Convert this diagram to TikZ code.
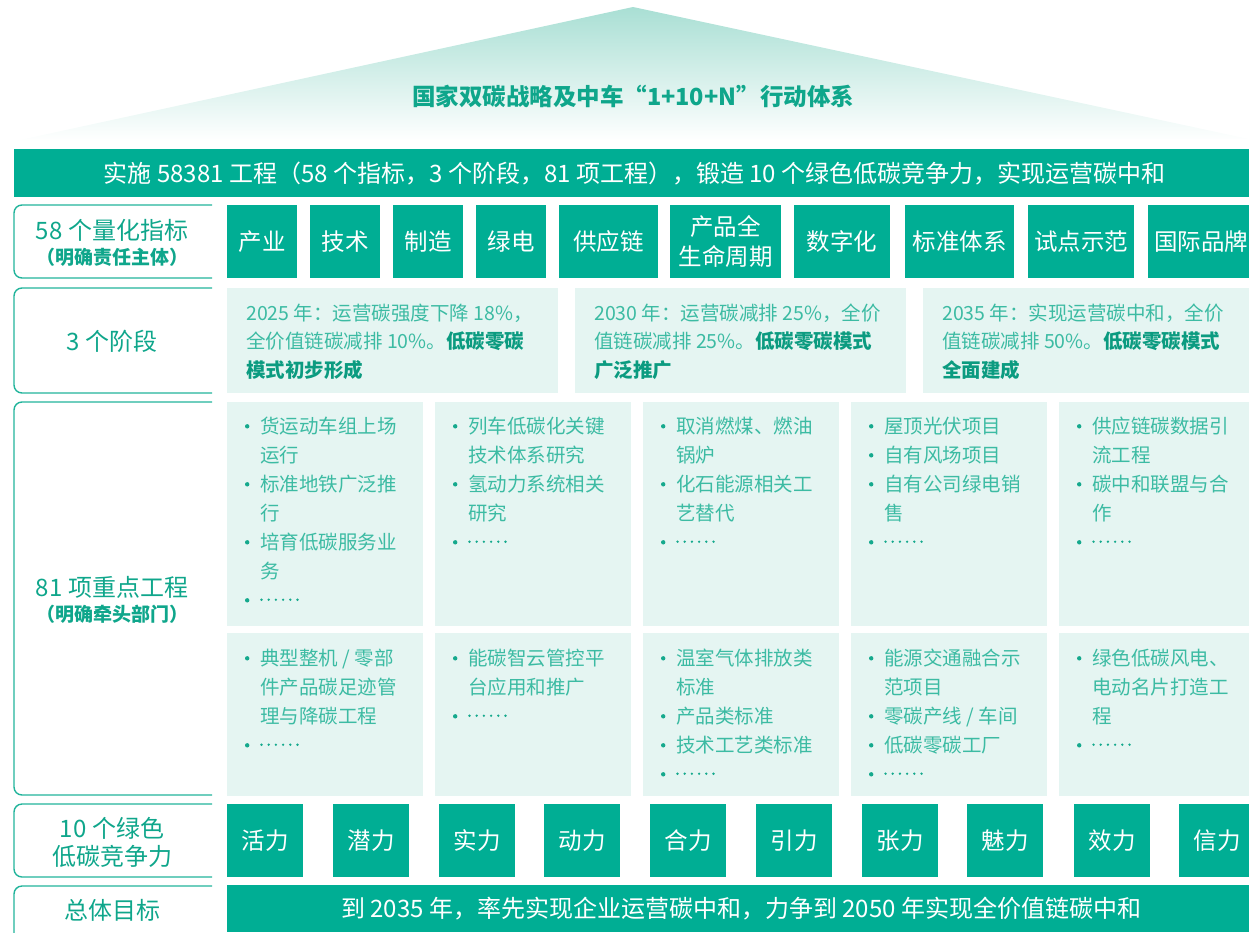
\documentclass[tikz,border=0pt]{standalone}
\usepackage{fontspec}
\setmainfont{Noto Sans CJK SC}
\definecolor{mainc}{HTML}{00AE94}
\definecolor{labc}{HTML}{0FA68B}
\definecolor{linec}{HTML}{22B49B}
\definecolor{lightc}{HTML}{3CBBA3}
\definecolor{dotc}{HTML}{15A98D}
\definecolor{boldc}{HTML}{0B9B80}
\definecolor{cellc}{HTML}{E5F5F2}
\definecolor{rooftop}{HTML}{A9DFD4}
\newcommand\fsz[2]{\fontsize{#1}{#2}\selectfont}
\newcommand\itm{\makebox[16pt][l]{\tikz[baseline=0pt]\fill[dotc] (0pt,0pt) (3pt,7.2pt) circle (2.2pt);}}
\newcommand\dts{\tikz[baseline=0pt]{\foreach \i in {0,...,5}{\fill[dotc] (\i*7.2pt+1.5pt,7.8pt) circle (1.3pt);}}}
\tikzset{
  tbox/.style={fill=mainc, text=white, inner sep=0pt, font=\fsz{23.5}{30}, align=center},
  wide/.style={fill=mainc, text=white, inner sep=0pt, font=\fsz{24}{30}},
  stagebox/.style={fill=cellc, inner sep=0pt},
  cellbox/.style={fill=cellc, inner sep=0pt},
  stagetext/.style={anchor=north west, inner sep=0pt, text=lightc, font=\fsz{19.5}{28.5}},
  celltext/.style={anchor=north west, inner sep=0pt, text=lightc, font=\fsz{19.5}{29}},
  labline/.style={draw=linec, line width=1.4pt, rounded corners=8pt},
  labtext/.style={text=labc, inner sep=0pt, font=\fsz{24}{28}, align=center},
  labsub/.style={text=labc, inner sep=0pt, font=\fsz{19}{22}\bfseries},
}
\begin{document}
\begin{tikzpicture}[x=1pt,y=-1pt]
\useasboundingbox (0,0) rectangle (1249,932);
\clip (0,0) rectangle (1249,932);
% roof
\shade[top color=rooftop, bottom color=white] (15,141) -- (633,7) -- (1249,139) -- cycle;
\node[text=labc, font=\fsz{23.5}{28}\bfseries, inner sep=0pt] (title) at (633,96) {国家双碳战略及中车“1+10+N”行动体系};
% banner
\node[wide, minimum width=1241pt, minimum height=48pt, anchor=north west] (banner) at (14,149) {实施 58381 工程（58 个指标，3 个阶段，81 项工程），锻造 10 个绿色低碳竞争力，实现运营碳中和};
% left label outlines
\draw[labline] (212,205) -- (14,205) -- (14,278) -- (212,278);
\draw[labline] (212,288) -- (14,288) -- (14,393) -- (212,393);
\draw[labline] (212,402) -- (14,402) -- (14,795) -- (212,795);
\draw[labline] (212,804) -- (14,804) -- (14,877) -- (212,877);
\draw[labline] (212,886) -- (14,886) -- (14,960) -- (212,960);
% left labels
\node[labtext] (l1) at (112,230) {58 个量化指标};
\node[labsub] (l1b) at (112,257) {（明确责任主体）};
\node[labtext] (l2) at (112,341) {3 个阶段};
\node[labtext] (l3) at (112,587) {81 项重点工程};
\node[labsub] (l3b) at (112,614) {（明确牵头部门）};
\node[labtext] (l4) at (112,842) {10 个绿色\\低碳竞争力};
\node[labtext] (l5) at (112,910) {总体目标};
% row 1: indicators
\node[tbox, minimum width=70pt, minimum height=73pt] (i1) at (262,241.5) {产业};
\node[tbox, minimum width=70pt, minimum height=73pt] (i2) at (345,241.5) {技术};
\node[tbox, minimum width=70pt, minimum height=73pt] (i3) at (428,241.5) {制造};
\node[tbox, minimum width=70pt, minimum height=73pt] (i4) at (511,241.5) {绿电};
\node[tbox, minimum width=99pt, minimum height=73pt] (i5) at (608.5,241.5) {供应链};
\node[tbox, minimum width=111pt, minimum height=73pt] (i6) at (725.5,241.5) {产品全\\生命周期};
\node[tbox, minimum width=96pt, minimum height=73pt] (i7) at (842,241.5) {数字化};
\node[tbox, minimum width=109pt, minimum height=73pt] (i8) at (959.5,241.5) {标准体系};
\node[tbox, minimum width=106pt, minimum height=73pt] (i9) at (1081,241.5) {试点示范};
\node[tbox, minimum width=106pt, minimum height=73pt] (i10) at (1201,241.5) {国际品牌};
% row 2: stages
\node[stagebox, minimum width=331pt, minimum height=105pt, anchor=north west] (s1) at (227,288) {};
\node[stagebox, minimum width=331pt, minimum height=105pt, anchor=north west] (s2) at (575,288) {};
\node[stagebox, minimum width=332pt, minimum height=105pt, anchor=north west] (s3) at (923,288) {};
\node[stagetext] (s1t) at (246,300) {\begin{tabular}{@{}l@{}}2025 年：运营碳强度下降 18\%，\\全价值链碳减排 10\%。{\color{boldc}\bfseries 低碳零碳}\\{\color{boldc}\bfseries 模式初步形成}\end{tabular}};
\node[stagetext] (s2t) at (594,300) {\begin{tabular}{@{}l@{}}2030 年：运营碳减排 25\%，全价\\值链碳减排 25\%。{\color{boldc}\bfseries 低碳零碳模式}\\{\color{boldc}\bfseries 广泛推广}\end{tabular}};
\node[stagetext] (s3t) at (942,300) {\begin{tabular}{@{}l@{}}2035 年：实现运营碳中和，全价\\值链碳减排 50\%。{\color{boldc}\bfseries 低碳零碳模式}\\{\color{boldc}\bfseries 全面建成}\end{tabular}};
% row 3: project cells
\foreach \cx [count=\k] in {227,435,643,851,1059}{
  \node[cellbox, minimum width=196pt, minimum height=224pt, anchor=north west] (pu\k) at (\cx,402) {};
  \node[cellbox, minimum width=196pt, minimum height=163pt, anchor=north west] (pl\k) at (\cx,633) {};
}
\node[celltext] (pu1t) at (244,413) {\begin{tabular}{@{}l@{}l@{}}\itm&货运动车组上场\\&运行\\\itm&标准地铁广泛推\\&行\\\itm&培育低碳服务业\\&务\\\itm&\dts\end{tabular}};
\node[celltext] (pu2t) at (452,413) {\begin{tabular}{@{}l@{}l@{}}\itm&列车低碳化关键\\&技术体系研究\\\itm&氢动力系统相关\\&研究\\\itm&\dts\end{tabular}};
\node[celltext] (pu3t) at (660,413) {\begin{tabular}{@{}l@{}l@{}}\itm&取消燃煤、燃油\\&锅炉\\\itm&化石能源相关工\\&艺替代\\\itm&\dts\end{tabular}};
\node[celltext] (pu4t) at (868,413) {\begin{tabular}{@{}l@{}l@{}}\itm&屋顶光伏项目\\\itm&自有风场项目\\\itm&自有公司绿电销\\&售\\\itm&\dts\end{tabular}};
\node[celltext] (pu5t) at (1076,413) {\begin{tabular}{@{}l@{}l@{}}\itm&供应链碳数据引\\&流工程\\\itm&碳中和联盟与合\\&作\\\itm&\dts\end{tabular}};
\node[celltext] (pl1t) at (244,645) {\begin{tabular}{@{}l@{}l@{}}\itm&典型整机 / 零部\\&件产品碳足迹管\\&理与降碳工程\\\itm&\dts\end{tabular}};
\node[celltext] (pl2t) at (452,645) {\begin{tabular}{@{}l@{}l@{}}\itm&能碳智云管控平\\&台应用和推广\\\itm&\dts\end{tabular}};
\node[celltext] (pl3t) at (660,645) {\begin{tabular}{@{}l@{}l@{}}\itm&温室气体排放类\\&标准\\\itm&产品类标准\\\itm&技术工艺类标准\\\itm&\dts\end{tabular}};
\node[celltext] (pl4t) at (868,645) {\begin{tabular}{@{}l@{}l@{}}\itm&能源交通融合示\\&范项目\\\itm&零碳产线 / 车间\\\itm&低碳零碳工厂\\\itm&\dts\end{tabular}};
\node[celltext] (pl5t) at (1076,645) {\begin{tabular}{@{}l@{}l@{}}\itm&绿色低碳风电、\\&电动名片打造工\\&程\\\itm&\dts\end{tabular}};
% row 4: competitiveness
\foreach \cx/\t [count=\k] in {227/活力,333/潜力,439/实力,544/动力,650/合力,756/引力,862/张力,967/魅力,1074/效力,1179/信力}{
  \node[tbox, minimum width=76pt, minimum height=73pt, anchor=north west] (c\k) at (\cx,804) {\t};
}
% row 5: goal
\node[wide, minimum width=1028pt, minimum height=47pt, anchor=north west] (goal) at (227,885) {到 2035 年，率先实现企业运营碳中和，力争到 2050 年实现全价值链碳中和};
\end{tikzpicture}
\end{document}
